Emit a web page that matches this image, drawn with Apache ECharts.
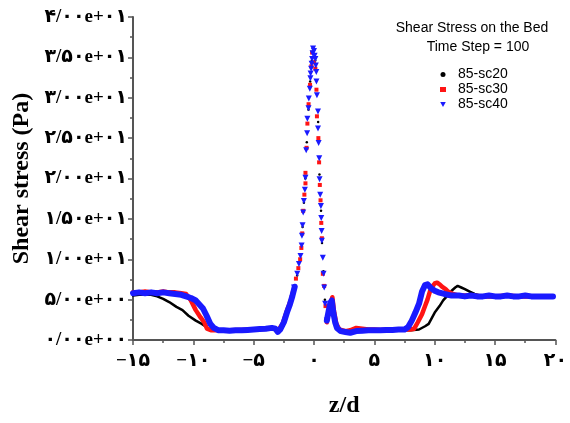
<!DOCTYPE html>
<html><head><meta charset="utf-8">
<script src="https://cdn.jsdelivr.net/npm/echarts@6/dist/echarts.min.js"></script>
<style>html,body{margin:0;padding:0;background:#fff}#c{width:570px;height:423px}</style>
</head><body><div id="c"></div>
<script>
const yTickLabels = ['۰/۰۰e+۰۰','۵/۰۰e+۰۰','۱/۰۰e+۰۱','۱/۵۰e+۰۱','۲/۰۰e+۰۱','۲/۵۰e+۰۱','۳/۰۰e+۰۱','۳/۵۰e+۰۱','۴/۰۰e+۰۱'];
const xTickLabels = {'-15':'−۱۵','-10':'−۱۰','-5':'−۵','0':'۰','5':'۵','10':'۱۰','15':'۱۵','20':'۲۰'};
const seriesNames = ['85-sc20','85-sc30','85-sc40'];

// 85-sc20 (black)
const sc20Left = [[-15,5.5],[-14.5,5.6],[-14,5.6],[-13.5,5.6],[-13,5.4],[-12.5,5.1],[-12,4.7],[-11.4,4.1],[-10.9,3.7],[-10.4,3.0],[-9.8,2.4],[-9.3,2.0],[-8.7,1.4],[-8.2,1.2],[-7.5,1.15],[-6.5,1.2],[-5.5,1.2],[-4.5,1.3],[-3.5,1.4],[-3.0,1.0],[-2.6,1.9],[-2.2,3.5],[-1.9,4.8],[-1.7,6.0]];
const sc20Peak = [[-1.4,8.0],[-1.1,10.6],[-0.95,14.0],[-0.84,17.0],[-0.72,20.0],[-0.6,24.5],[-0.46,28.5],[-0.32,32.0],[-0.18,34.6],[-0.06,35.8],[0.1,34.6],[0.22,31.0],[0.34,27.0],[0.45,20.5],[0.58,16.0],[0.66,12.0],[0.78,8.5],[0.9,5.0]];
const sc20Right = [[1.06,2.3],[1.4,4.7],[1.6,3.2],[1.9,1.6],[2.4,1.1],[3,1.1],[4,1.2],[5,1.2],[6,1.2],[7,1.2],[8,1.2],[8.7,1.3],[9.2,1.7],[9.5,2.0],[10.0,3.4],[10.4,4.2],[10.7,4.9],[11.0,5.4],[11.4,6.1],[11.7,6.5],[11.9,6.7],[12.2,6.5],[12.5,6.3],[12.9,6.0],[13.3,5.7],[13.8,5.5],[14.5,5.4],[15.5,5.4],[16.5,5.4],[17.5,5.4],[18.5,5.4],[19.8,5.4]];

// 85-sc30 (red)
const sc30Left = [[-15,5.9],[-14.5,5.9],[-14,6.0],[-13.5,5.9],[-13,5.9],[-12.5,6.0],[-12,5.9],[-11.5,5.9],[-11,5.8],[-10.6,5.7],[-10.2,4.9],[-9.8,3.7],[-9.4,2.8],[-9.1,2.2],[-8.87,1.4],[-8.5,1.2],[-8,1.2],[-7,1.2],[-6,1.25],[-5,1.3],[-4,1.4],[-3.2,1.4],[-3.0,1.1],[-2.6,2.0],[-2.2,3.8],[-1.9,5.0],[-1.7,6.2]];
const sc30Peak = [[-1.5,7.6],[-1.3,8.9],[-1.15,10.0],[-1.05,11.4],[-0.98,13.2],[-0.9,16.0],[-0.8,18.0],[-0.71,19.4],[-0.71,20.7],[-0.62,23.8],[-0.55,26.8],[-0.45,29.2],[-0.33,31.6],[-0.22,33.9],[-0.16,35.6],[0.0,34.4],[0.11,33.6],[0.2,31.0],[0.24,27.7],[0.36,25.0],[0.42,22.0],[0.48,19.2],[0.54,17.3],[0.6,14.5],[0.65,12.6],[0.73,8.2],[0.84,6.7],[0.95,4.2]];
const sc30Right = [[1.06,2.2],[1.3,4.2],[1.52,5.3],[1.65,3.6],[1.85,2.0],[2.1,1.3],[2.6,1.1],[3,1.2],[3.5,1.5],[4,1.4],[4.5,1.3],[5,1.3],[5.5,1.25],[6,1.3],[7,1.3],[8,1.3],[8.3,1.4],[8.6,2.2],[8.95,3.2],[9.2,4.2],[9.4,5.0],[9.6,6.0],[9.8,6.6],[10.0,7.0],[10.2,7.1],[10.4,6.9],[10.6,6.6],[10.9,6.3],[11.1,6.0],[11.5,5.7],[12,5.5],[13,5.5],[14,5.4],[15,5.4],[16,5.5],[17,5.4],[18,5.4],[19,5.4],[19.8,5.4]];

// 85-sc40 (blue)
const sc40Left = [[-15,5.8],[-14.5,5.9],[-14,5.8],[-13.5,5.9],[-13,5.8],[-12.5,5.9],[-12,5.8],[-11.5,5.7],[-11,5.6],[-10.6,5.4],[-10.2,5.2],[-9.8,4.9],[-9.5,4.4],[-9.2,3.9],[-8.9,3.0],[-8.6,2.0],[-8.3,1.5],[-7.9,1.2],[-7.5,1.2],[-7,1.15],[-6.5,1.2],[-6,1.2],[-5.5,1.25],[-5,1.3],[-4.5,1.35],[-4,1.4],[-3.5,1.5],[-3.2,1.4],[-3.0,1.0],[-2.8,1.3],[-2.5,2.2],[-2.2,3.6],[-2.0,4.4],[-1.8,5.4],[-1.6,6.6]];
const sc40Peak = [[-1.66,6.5],[-1.39,8.2],[-1.25,9.4],[-1.12,10.4],[-1.03,11.7],[-1.0,12.9],[-0.95,14.2],[-0.9,15.8],[-0.84,17.2],[-0.76,18.6],[-0.71,20.1],[-0.65,23.5],[-0.57,25.6],[-0.55,27.4],[-0.46,28.7],[-0.43,29.9],[-0.35,31.1],[-0.3,32.4],[-0.28,33.0],[-0.24,33.6],[-0.2,34.2],[-0.16,34.8],[-0.12,35.5],[-0.08,36.1],[0.0,35.8],[0.05,35.2],[0.11,34.8],[0.15,34.0],[0.19,33.2],[0.2,32.0],[0.24,30.3],[0.33,28.3],[0.33,26.2],[0.38,24.4],[0.43,22.5],[0.46,19.9],[0.51,18.0],[0.57,16.6],[0.6,15.1],[0.63,13.5],[0.65,12.3],[0.73,10.2],[0.79,8.2],[0.84,6.5],[0.92,4.5],[1.06,2.4]];
const sc40Right = [[1.06,2.4],[1.2,3.5],[1.35,4.6],[1.47,4.9],[1.6,3.4],[1.75,2.2],[1.9,1.5],[2.2,1.1],[2.6,1.0],[3.0,0.9],[3.5,1.1],[4,1.15],[4.5,1.2],[5,1.2],[5.5,1.2],[6,1.25],[6.5,1.25],[7,1.3],[7.5,1.3],[7.8,1.6],[8.1,2.4],[8.4,3.4],[8.7,4.5],[8.95,6.0],[9.2,6.8],[9.4,6.9],[9.7,6.4],[10.0,6.1],[10.3,5.9],[10.8,5.7],[11.4,5.5],[12,5.5],[12.5,5.4],[13,5.5],[13.5,5.4],[14,5.4],[14.5,5.5],[15,5.4],[15.5,5.4],[16,5.5],[16.5,5.4],[17,5.4],[17.5,5.5],[18,5.4],[18.5,5.4],[19,5.4],[19.5,5.4],[19.8,5.4]];

const colors = ['#000000','#ff1414','#1a1aff'];
const bandWidths = [2.5, 4.5, 6];
const symbols = ['circle','rect','triangle'];
const symbolSizes = [2.5, 4, 6];
const parts = [[sc20Left, sc20Peak, sc20Right],[sc30Left, sc30Peak, sc30Right],[sc40Left, sc40Peak, sc40Right]];

const series = [];
parts.forEach((p, i) => {
  [p[0], p[2]].forEach(d => series.push({
    name: seriesNames[i], type: 'line', data: d, showSymbol: false, z: 2 + i,
    lineStyle: {color: colors[i], width: bandWidths[i], join: 'round', cap: 'round'},
    itemStyle: {color: colors[i]}
  }));
  series.push({
    name: seriesNames[i], type: 'scatter', data: p[1], z: 2 + i,
    symbol: symbols[i], symbolSize: symbolSizes[i], symbolRotate: i === 2 ? 180 : 0,
    itemStyle: {color: colors[i], opacity: 1}
  });
});

const serif = "'Liberation Serif','Times New Roman','DejaVu Sans',serif";
const sans = "'Liberation Sans',Arial,sans-serif";
const chart = echarts.init(document.getElementById('c'));
chart.setOption({
  animation: false,
  backgroundColor: '#fff',
  title: [
    {text: 'Shear Stress on the Bed', left: 467, top: 16, textAlign: 'center',
     textStyle: {fontFamily: sans, fontSize: 14, fontWeight: 'normal', color: '#000'}},
    {text: 'Time Step = 100', left: 473, top: 35, textAlign: 'center',
     textStyle: {fontFamily: sans, fontSize: 14, fontWeight: 'normal', color: '#000'}}
  ],
  legend: {
    orient: 'vertical', left: 435, top: 62, itemWidth: 6, itemHeight: 5, itemGap: 0,
    textStyle: {fontFamily: sans, fontSize: 14, color: '#000', lineHeight: 15, padding: [0, 0, 0, 7]},
    data: [
      {name: '85-sc20', icon: 'circle'},
      {name: '85-sc30', icon: 'rect'},
      {name: '85-sc40', icon: 'path://M0,0L10,0L5,9Z'}
    ]
  },
  grid: {left: 133, right: 8, top: 17, bottom: 80, containLabel: false},
  xAxis: {
    type: 'value', min: -15, max: 20, interval: 5,
    name: 'z/d', nameLocation: 'middle', nameGap: 54,
    nameTextStyle: {fontFamily: serif, fontSize: 24, fontWeight: 'bold', color: '#000'},
    axisLine: {onZero: false, lineStyle: {color: '#555', width: 2}},
    axisTick: {show: true, length: 5, lineStyle: {color: '#555', width: 1.5}},
    minorTick: {show: true, splitNumber: 2, length: 3, lineStyle: {color: '#555', width: 1.5}},
    splitLine: {show: false},
    axisLabel: {margin: 12, fontFamily: serif, fontSize: 19, fontWeight: 'bold', color: '#000',
      formatter: v => xTickLabels[String(v)] || ''}
  },
  yAxis: {
    type: 'value', min: 0, max: 40, interval: 5,
    name: 'Shear stress (Pa)', nameLocation: 'middle', nameGap: 86, nameRotate: 90,
    nameTextStyle: {fontFamily: serif, fontSize: 24, fontWeight: 'bold', color: '#000'},
    axisLine: {show: true, onZero: false, lineStyle: {color: '#555', width: 2}},
    axisTick: {show: true, length: 5, lineStyle: {color: '#555', width: 1.5}},
    minorTick: {show: true, splitNumber: 2, length: 3, lineStyle: {color: '#555', width: 1.5}},
    splitLine: {show: false},
    axisLabel: {margin: 6, fontFamily: serif, fontSize: 19, fontWeight: 'bold', color: '#000',
      formatter: v => yTickLabels[Math.round(v / 5)] || ''}
  },
  series: series
});
</script></body></html>
